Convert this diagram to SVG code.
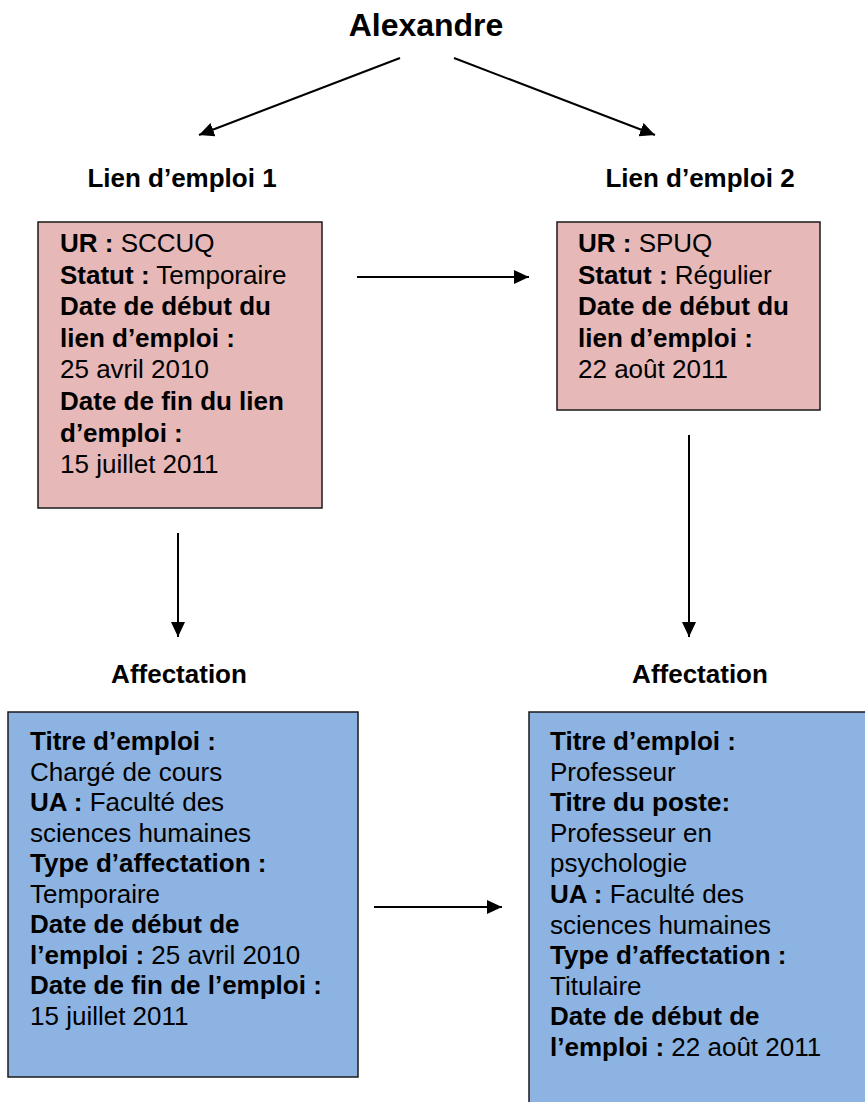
<svg xmlns="http://www.w3.org/2000/svg" width="865" height="1102" viewBox="0 0 865 1102">
<style>
text{font-family:"Liberation Sans",Arial,sans-serif;fill:#000}
.t{font-size:26px}
.b{font-weight:bold}
.lbl{font-size:26px;font-weight:bold;text-anchor:middle}
.pink{fill:#E6B8B7;stroke:#1a1a1a;stroke-width:1.5}
.blue{fill:#8DB3E2;stroke:#1a1a1a;stroke-width:1.5}
.conn{stroke:#000;stroke-width:2;fill:none;marker-end:url(#ah)}
</style>
<defs>
<marker id="ah" markerUnits="userSpaceOnUse" markerWidth="16" markerHeight="14" refX="15" refY="7" orient="auto">
<path d="M0,0 L15,7 L0,14 z" fill="#000"/>
</marker>
</defs>
<g id="title"><text x="426" y="36" style="font-size:32px;font-weight:bold" text-anchor="middle">Alexandre</text></g>
<g id="label-lien1"><text class="lbl" x="182" y="187">Lien d’emploi 1</text></g>
<g id="label-lien2"><text class="lbl" x="700" y="187">Lien d’emploi 2</text></g>
<g id="label-aff1"><text class="lbl" x="179" y="683">Affectation</text></g>
<g id="label-aff2"><text class="lbl" x="700" y="683">Affectation</text></g>
<g id="lien1">
<rect class="pink" x="38" y="222" width="284" height="286"/>
<text class="t" x="60"><tspan x="60" y="252"><tspan class="b">UR :</tspan> SCCUQ</tspan><tspan x="60" dy="31.6"><tspan class="b">Statut :</tspan> Temporaire</tspan><tspan x="60" dy="31.6" class="b">Date de début du</tspan><tspan x="60" dy="31.6" class="b">lien d’emploi :</tspan><tspan x="60" dy="31.6">25 avril 2010</tspan><tspan x="60" dy="31.6" class="b">Date de fin du lien</tspan><tspan x="60" dy="31.6" class="b">d’emploi :</tspan><tspan x="60" dy="31.6">15 juillet 2011</tspan></text>
</g>
<g id="lien2">
<rect class="pink" x="557" y="222" width="263" height="188"/>
<text class="t"><tspan x="578" y="252"><tspan class="b">UR :</tspan> SPUQ</tspan><tspan x="578" dy="31.6"><tspan class="b">Statut :</tspan> Régulier</tspan><tspan x="578" dy="31.6" class="b">Date de début du</tspan><tspan x="578" dy="31.6" class="b">lien d’emploi :</tspan><tspan x="578" dy="31.6">22 août 2011</tspan></text>
</g>
<g id="aff1">
<rect class="blue" x="8" y="712" width="350" height="365"/>
<text class="t"><tspan x="30" y="750" class="b">Titre d’emploi :</tspan><tspan x="30" dy="30.5">Chargé de cours</tspan><tspan x="30" dy="30.5"><tspan class="b">UA :</tspan> Faculté des</tspan><tspan x="30" dy="30.5">sciences humaines</tspan><tspan x="30" dy="30.5" class="b">Type d’affectation :</tspan><tspan x="30" dy="30.5">Temporaire</tspan><tspan x="30" dy="30.5" class="b">Date de début de</tspan><tspan x="30" dy="30.5"><tspan class="b">l’emploi :</tspan> 25 avril 2010</tspan><tspan x="30" dy="30.5" class="b">Date de fin de l’emploi :</tspan><tspan x="30" dy="30.5">15 juillet 2011</tspan></text>
</g>
<g id="aff2">
<rect class="blue" x="529" y="712" width="350" height="400"/>
<text class="t"><tspan x="550" y="750" class="b">Titre d’emploi :</tspan><tspan x="550" dy="30.6">Professeur</tspan><tspan x="550" dy="30.6" class="b">Titre du poste:</tspan><tspan x="550" dy="30.6">Professeur en</tspan><tspan x="550" dy="30.6">psychologie</tspan><tspan x="550" dy="30.6"><tspan class="b">UA :</tspan> Faculté des</tspan><tspan x="550" dy="30.6">sciences humaines</tspan><tspan x="550" dy="30.6" class="b">Type d’affectation :</tspan><tspan x="550" dy="30.6">Titulaire</tspan><tspan x="550" dy="30.6" class="b">Date de début de</tspan><tspan x="550" dy="30.6"><tspan class="b">l’emploi :</tspan> 22 août 2011</tspan></text>
</g>
<g id="connectors">
<line class="conn" x1="400" y1="58" x2="199" y2="135"/>
<line class="conn" x1="454" y1="58" x2="655" y2="135"/>
<line class="conn" x1="357" y1="277" x2="529" y2="277"/>
<line class="conn" x1="178" y1="533" x2="178" y2="637"/>
<line class="conn" x1="689" y1="435" x2="689" y2="637"/>
<line class="conn" x1="374" y1="907" x2="502" y2="907"/>
</g>
</svg>
